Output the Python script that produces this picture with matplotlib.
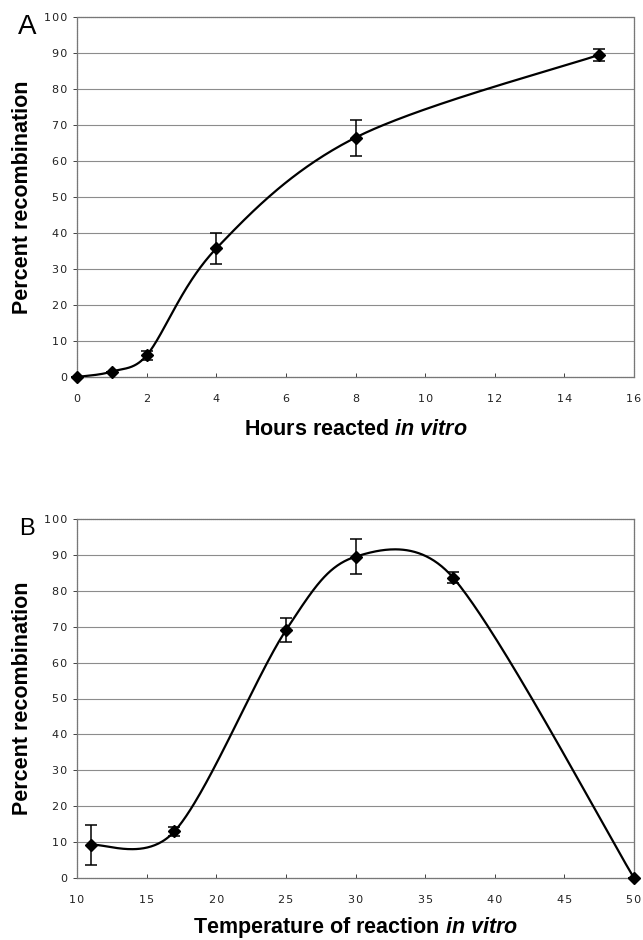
import numpy as np
import matplotlib
matplotlib.use("Agg")
import matplotlib.pyplot as plt
from matplotlib.ticker import FuncFormatter

plt.rcParams["mathtext.fontset"] = "custom"
plt.rcParams["mathtext.rm"] = "Liberation Sans"
plt.rcParams["mathtext.bf"] = "Liberation Sans:bold"
plt.rcParams["mathtext.it"] = "Liberation Sans:italic"
plt.rcParams["mathtext.bfit"] = "Liberation Sans:italic:bold"

# Panel A data
hours = [0, 1, 2, 4, 8, 15]
pct_a = [0, 1.5, 6, 35.7, 66.5, 89.5]
err_a = [0, 0, 1.2, 4.4, 5.0, 1.6]

# Panel B data
temps = [11, 17, 25, 30, 37, 50]
pct_b = [9.2, 13, 69, 89.5, 83.7, 0]
err_b = [5.6, 1.3, 3.3, 4.9, 1.6, 0]

W, H = 6.43, 9.40
fig = plt.figure(figsize=(W, H), dpi=100)
axA = fig.add_axes([77 / 643, 1 - 377 / 940, 557 / 643, 360 / 940])
axB = fig.add_axes([77 / 643, 1 - 878 / 940, 557 / 643, 359 / 940])


def smooth(ax, x, y, xlim, n=80):
    # Excel-like smoothing: Bezier segments, handle factor min(1/6, 0.5*d12/|p2-p0|) in screen space
    bbox = ax.get_position()
    sx = bbox.width * W * 100 / (xlim[1] - xlim[0])
    sy = bbox.height * H * 100 / 100.0
    P = np.column_stack([np.asarray(x, float) * sx, np.asarray(y, float) * sy])
    Pe = np.vstack([P[0], P, P[-1]])
    out = []
    for i in range(len(P) - 1):
        p0, p1, p2, p3 = Pe[i], Pe[i + 1], Pe[i + 2], Pe[i + 3]
        d12 = np.linalg.norm(p2 - p1)
        t1 = p2 - p0; t2 = p3 - p1
        f1 = min(1 / 6, 0.5 * d12 / np.linalg.norm(t1))
        f2 = min(1 / 6, 0.5 * d12 / np.linalg.norm(t2))
        c1 = p1 + t1 * f1
        c2 = p2 - t2 * f2
        t = np.linspace(0, 1, n)[:, None]
        seg = ((1 - t) ** 3) * p1 + 3 * ((1 - t) ** 2) * t * c1 + 3 * (1 - t) * t ** 2 * c2 + t ** 3 * p2
        out.append(seg)
    s = np.vstack(out)
    return s[:, 0] / sx, s[:, 1] / sy


spaced = FuncFormatter(lambda v, p: "\u200a".join(str(int(round(v)))))


def style(ax, xlim, xticks):
    ax.set_xlim(*xlim)
    ax.set_ylim(0, 100)
    ax.set_xticks(xticks)
    ax.set_yticks(range(0, 101, 10))
    ax.xaxis.set_major_formatter(spaced)
    ax.yaxis.set_major_formatter(spaced)
    for yv in range(10, 100, 10):
        ax.axhline(yv, color="#8c8c8c", lw=0.8, zorder=0)
    for sp in ax.spines.values():
        sp.set_color("#777777")
        sp.set_linestyle((0, (1, 0.6)))
        sp.set_linewidth(0.9)
    ax.tick_params(axis="both", labelsize=8, colors="#222222", length=3, width=0.6)
    ax.tick_params(axis="x", direction="in", pad=12)
    ax.tick_params(axis="y", direction="out", pad=4)
    for lab in ax.get_xticklabels() + ax.get_yticklabels():
        lab.set_fontfamily("DejaVu Sans")


lab_font = dict(fontsize=15.5, fontweight="bold", family="Liberation Sans")

style(axA, (0, 16), range(0, 17, 2))
xs, ys = smooth(axA, hours, pct_a, (0, 16))
axA.plot(xs, ys, color="black", lw=1.6, zorder=3)
axA.errorbar(hours, pct_a, yerr=err_a, fmt="D", color="black", ms=6, capsize=4.5,
             elinewidth=1.1, capthick=1.1, zorder=4, clip_on=False)
axA.set_ylabel("Percent recombination", labelpad=8, **lab_font)
axA.set_xlabel("Hours reacted $\\mathbfit{in\\ vitro}$", **lab_font)
axA.xaxis.set_label_coords(0.5, -0.118)

style(axB, (10, 50), range(10, 51, 5))
xs, ys = smooth(axB, temps, pct_b, (10, 50))
axB.plot(xs, ys, color="black", lw=1.6, zorder=3)
axB.errorbar(temps, pct_b, yerr=err_b, fmt="D", color="black", ms=6, capsize=4.5,
             elinewidth=1.1, capthick=1.1, zorder=4, clip_on=False)
axB.set_ylabel("Percent recombination", labelpad=8, **lab_font)
axB.set_xlabel("Temperature of reaction $\\mathbfit{in\\ vitro}$", **lab_font)
axB.xaxis.set_label_coords(0.5, -0.104)

fig.text(27 / 643, 1 - 27 / 940, "A", fontsize=20, ha="center", va="center", family="Liberation Sans")
fig.text(27 / 643, 1 - 529 / 940, "B", fontsize=17, ha="center", va="center", family="Liberation Sans")

fig.savefig("out.png", dpi=100)
